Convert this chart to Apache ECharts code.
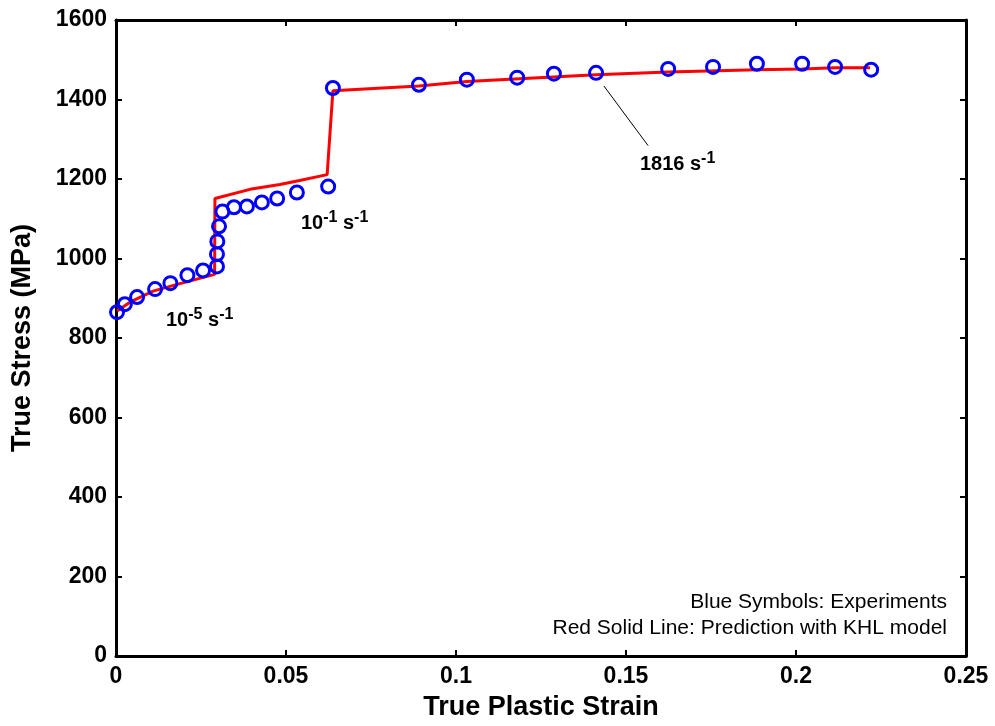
<!DOCTYPE html>
<html>
<head>
<meta charset="utf-8">
<title>True Stress vs True Plastic Strain</title>
<script src="https://cdn.jsdelivr.net/npm/echarts@6/dist/echarts.min.js"></script>
<style>
  html, body { margin: 0; padding: 0; background: #ffffff; }
  #chart { width: 995px; height: 726px; }
</style>
</head>
<body>
<div id="chart"></div>
<script>
// Experimental points: true plastic strain and true stress (MPa)
const expStrain = [0.0003, 0.0026, 0.0062, 0.0115, 0.0160, 0.0210, 0.0256, 0.0297, 0.0297, 0.0298, 0.0303, 0.0313,
  0.0347, 0.0385, 0.0429, 0.0474, 0.0532, 0.0624, 0.0638, 0.0891, 0.1032, 0.1180, 0.1288, 0.1412,
  0.1624, 0.1756, 0.1885, 0.2018, 0.2115, 0.2221];
const expStress = [865, 885, 903, 923, 938, 958, 970, 980, 1011, 1043, 1081, 1118,
  1129, 1131, 1141, 1151, 1166, 1181, 1429, 1437, 1450, 1455, 1465, 1467,
  1477, 1482, 1490, 1490, 1482, 1475];

// KHL model prediction
const modelStrain = [0.0003, 0.0041, 0.0109, 0.0180, 0.0290, 0.0291, 0.0394, 0.0482, 0.0540, 0.0621, 0.0638,
  0.0891, 0.1032, 0.1412, 0.1624, 0.1885, 0.2018, 0.2115, 0.2218];
const modelStress = [868, 890, 918, 935, 960, 1151, 1174, 1186, 1196, 1211, 1422,
  1434, 1445, 1462, 1469, 1475, 1477, 1480, 1480];

// Strain-rate annotations: [strain, stress, base text, exponent]
const rateLabels = [
  [0.0147, 848, '10', '-5'],
  [0.0544, 1093, '10', '-1'],
  [0.1541, 1241, '1816', '']
];
// Leader line for the 1816 s^-1 label
const leaderStrain = [0.1435, 0.1565];
const leaderStress = [1434, 1284];

const xTicks = { min: 0, max: 0.25, interval: 0.05 };
const yTicks = { min: 0, max: 1600, interval: 200 };

const FONT = '"Liberation Sans", Arial, sans-serif';

const chart = echarts.init(document.getElementById('chart'));

const axisLineStyle = { show: true, onZero: false, lineStyle: { color: '#000', width: 3 } };
const tickStyle = { show: true, inside: true, length: 6, lineStyle: { color: '#000', width: 2 } };

const option = {
  backgroundColor: '#ffffff',
  animation: false,
  grid: { left: 116, right: 29, top: 20, bottom: 68 },
  xAxis: [
    {
      type: 'value', min: xTicks.min, max: xTicks.max, interval: xTicks.interval,
      axisLine: axisLineStyle, axisTick: tickStyle, splitLine: { show: false },
      axisLabel: { color: '#000', fontFamily: FONT, fontWeight: 'bold', fontSize: 23, margin: 9,
        formatter: v => String(v) },
      name: 'True Plastic Strain', nameLocation: 'middle', nameGap: 38,
      nameTextStyle: { color: '#000', fontFamily: FONT, fontWeight: 'bold', fontSize: 27 }
    },
    {
      type: 'value', position: 'top', min: xTicks.min, max: xTicks.max, interval: xTicks.interval,
      axisLine: axisLineStyle, axisTick: tickStyle, axisLabel: { show: false }, splitLine: { show: false }
    }
  ],
  yAxis: [
    {
      type: 'value', min: yTicks.min, max: yTicks.max, interval: yTicks.interval,
      axisLine: axisLineStyle, axisTick: tickStyle, splitLine: { show: false },
      axisLabel: { color: '#000', fontFamily: FONT, fontWeight: 'bold', fontSize: 23, margin: 9,
        formatter: v => String(v) },
      name: 'True Stress (MPa)', nameLocation: 'middle', nameGap: 80,
      nameTextStyle: { color: '#000', fontFamily: FONT, fontWeight: 'bold', fontSize: 27 }
    },
    {
      type: 'value', position: 'right', min: yTicks.min, max: yTicks.max, interval: yTicks.interval,
      axisLine: axisLineStyle, axisTick: tickStyle, axisLabel: { show: false }, splitLine: { show: false }
    }
  ],
  series: [
    {
      name: 'KHL model',
      type: 'line',
      data: modelStrain.map((s, i) => [s, modelStress[i]]),
      showSymbol: false,
      symbol: 'none',
      lineStyle: { color: '#ff0000', width: 3 },
      z: 3
    },
    {
      name: 'Experiments',
      type: 'scatter',
      data: expStrain.map((s, i) => [s, expStress[i]]),
      symbol: 'circle',
      symbolSize: 13,
      itemStyle: { color: 'rgba(0,0,0,0)', borderColor: '#0000ff', borderWidth: 3, opacity: 1 },
      emphasis: { disabled: true },
      z: 4
    },
    {
      name: 'leader',
      type: 'line',
      data: leaderStrain.map((s, i) => [s, leaderStress[i]]),
      symbol: 'none',
      lineStyle: { color: '#000', width: 1 },
      z: 2
    },
    {
      name: 'rates',
      type: 'scatter',
      symbolSize: 0,
      data: rateLabels.map(r => ({ value: [r[0], r[1]], base: r[2], exp: r[3] })),
      label: {
        show: true,
        position: 'right',
        distance: 0,
        color: '#000',
        textBorderWidth: 0,
        formatter: p => {
          const d = p.data;
          return d.exp
            ? '{b|' + d.base + '}{sup|' + d.exp + '}{b| s}{sup|-1}'
            : '{b|' + d.base + ' s}{sup|-1}';
        },
        rich: {
          b: { color: '#000', fontFamily: FONT, fontWeight: 'bold', fontSize: 20, verticalAlign: 'bottom', lineHeight: 24 },
          sup: { color: '#000', fontFamily: FONT, fontWeight: 'bold', fontSize: 16, verticalAlign: 'top', padding: [0, 0, 10, 0], lineHeight: 24 }
        }
      },
      itemStyle: { opacity: 1 },
      emphasis: { disabled: true },
      z: 5
    }
  ],
  graphic: [
    {
      type: 'text', right: 48, top: 592,
      style: { text: 'Blue Symbols: Experiments', fill: '#000', font: '21px ' + FONT, textAlign: 'right' }
    },
    {
      type: 'text', right: 48, top: 618,
      style: { text: 'Red Solid Line: Prediction with KHL model', fill: '#000', font: '21px ' + FONT, textAlign: 'right' }
    }
  ]
};

chart.setOption(option);
</script>
</body>
</html>
